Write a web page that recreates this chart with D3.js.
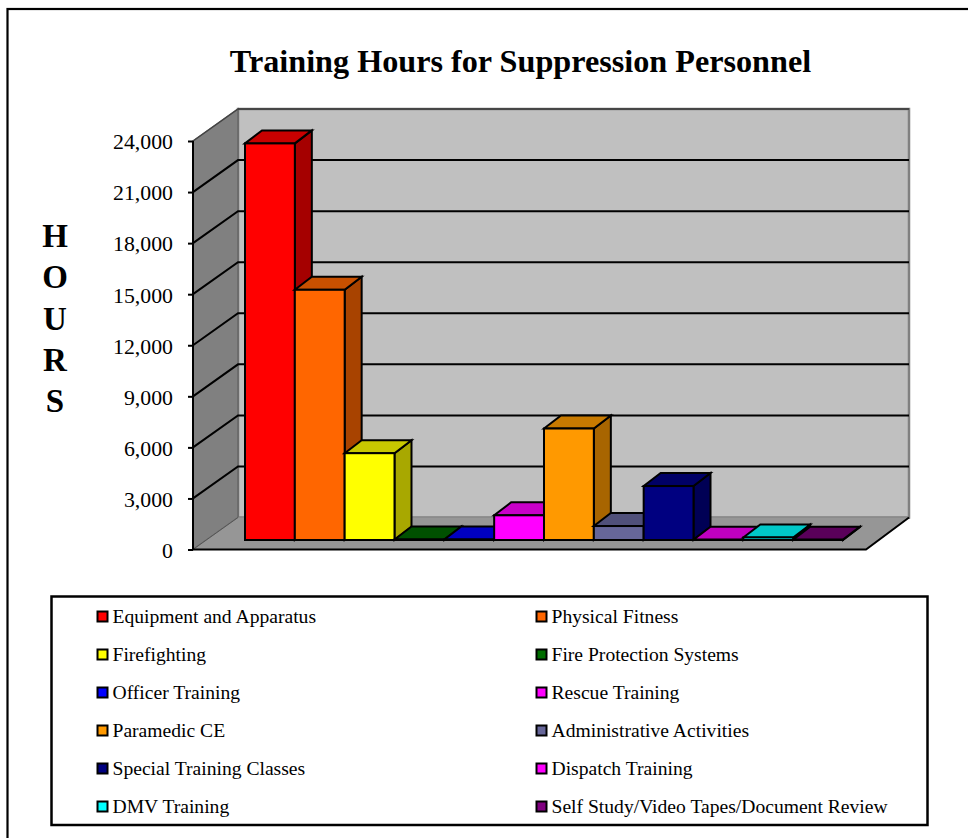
<!DOCTYPE html>
<html><head><meta charset="utf-8">
<script src="https://cdnjs.cloudflare.com/ajax/libs/d3/7.8.5/d3.min.js"></script>
<style>html,body{margin:0;padding:0;background:#fff}svg{display:block}text{font-family:"Liberation Serif",serif;fill:#000}</style>
</head><body><svg id="c" width="968" height="838"></svg>
<script>
const categories=["Equipment and Apparatus","Physical Fitness","Firefighting","Fire Protection Systems","Officer Training","Rescue Training","Paramedic CE","Administrative Activities","Special Training Classes","Dispatch Training","DMV Training","Self Study/Video Tapes/Document Review"];
const hours=[23300,14700,5100,30,30,1450,6550,820,3170,20,150,20];
const frontColors=["#ff0000","#ff6600","#ffff00","#006e00","#0000ff","#ff00ff","#ff9900","#666699","#000080","#ff00ff","#00ffff","#800080"];
const sideColors=["#a50000","#a84300","#a8a800","#004000","#000080","#a000a0","#a86500","#434365","#000055","#800080","#00a8a8","#400040"];
const topColors=["#c80000","#c85000","#c8c800","#005000","#0000c0","#c800c8","#c87a00","#50507a","#000066","#c000c0","#00c8c8","#5a005a"];
const yTicks=[0,3000,6000,9000,12000,15000,18000,21000,24000];
const titleText="Training Hours for Suppression Personnel";
const yLetters=["H","O","U","R","S"];

const svg=d3.select("#c");
const fmt=d3.format(",");
const axisX=193,depthX=45,depthY=-32,wallRight=909,floorFrontRight=866;
const y=d3.scaleLinear().domain([0,24000]).range([549.5,141]);
const x=d3.scaleBand().domain(categories).range([245,843]).paddingInner(0).paddingOuter(0);
const barBase=540,bdx=17,bdy=-13;
const barY=v=>y(v)-(y(0)-barBase);
const poly=p=>p.map(q=>q.join(",")).join(" ");

svg.append("rect").attr("x",7.5).attr("y",9).attr("width",980).attr("height",860).attr("fill","#fff").attr("stroke","#000").attr("stroke-width",2.2);
svg.append("text").attr("x",520.5).attr("y",72).attr("text-anchor","middle").attr("font-size",32.2).attr("font-weight","bold").text(titleText);

// walls
const g=svg.append("g");
g.append("polygon").attr("points",poly([[axisX+depthX,y(24000)+depthY],[wallRight,y(24000)+depthY],[wallRight,y(0)+depthY],[axisX+depthX,y(0)+depthY]])).attr("fill","#c0c0c0").attr("stroke","#808080").attr("stroke-width",2.5);
g.append("polygon").attr("points",poly([[axisX,y(24000)],[axisX+depthX,y(24000)+depthY],[axisX+depthX,y(0)+depthY],[axisX,y(0)]])).attr("fill","#808080").attr("stroke","#666").attr("stroke-width",1.5);
g.append("polygon").attr("points",poly([[axisX,y(0)],[axisX+depthX,y(0)+depthY],[wallRight,y(0)+depthY],[floorFrontRight,y(0)]])).attr("fill","#969696");
g.append("line").attr("x1",axisX+depthX).attr("x2",wallRight).attr("y1",y(24000)+depthY).attr("y2",y(24000)+depthY).attr("stroke","#333").attr("stroke-width",1.5);

// gridlines
yTicks.filter(d=>d>0&&d<24000).forEach(d=>{
  g.append("polyline").attr("fill","none").attr("stroke","#000").attr("stroke-width",2)
   .attr("points",poly([[axisX,y(d)],[axisX+depthX,y(d)+depthY],[wallRight,y(d)+depthY]]));
});
g.append("line").attr("x1",axisX).attr("y1",y(24000)).attr("x2",axisX+depthX).attr("y2",y(24000)+depthY).attr("stroke","#444").attr("stroke-width",1.5);
g.append("line").attr("x1",axisX).attr("y1",y(0)).attr("x2",axisX+depthX).attr("y2",y(0)+depthY).attr("stroke","#555").attr("stroke-width",1);

// floor front edge
g.append("polyline").attr("fill","none").attr("stroke","#000").attr("stroke-width",2)
 .attr("points",poly([[axisX,y(0)],[floorFrontRight,y(0)],[wallRight,y(0)+depthY]]));

// y axis
const axis=d3.axisLeft(y).tickValues(yTicks).tickFormat(fmt).tickSize(5).tickPadding(15);
const ag=svg.append("g").attr("transform",`translate(${axisX},0)`).call(axis);
ag.selectAll("path").attr("stroke","#000").attr("stroke-width",2).attr("d",`M0,${y(0)}V${y(24000)}`);
ag.selectAll("line").attr("stroke","#000").attr("stroke-width",2);
ag.selectAll("text").attr("font-size",21.8).attr("font-family","Liberation Serif").attr("dy","0.36em");

// y title
svg.append("g").selectAll("text").data(yLetters).join("text").attr("x",55).attr("y",(d,i)=>247+i*41.25).attr("text-anchor","middle").attr("font-size",33).attr("font-weight","bold").text(d=>d);

// bars
const bars=svg.append("g").selectAll("g").data(categories).join("g").attr("stroke","#000").attr("stroke-width",2).attr("stroke-linejoin","miter");
bars.each(function(c,i){
  const s=d3.select(this),x0=x(c),x1=x0+x.bandwidth(),t=barY(hours[i]);
  s.append("polygon").attr("points",poly([[x1,barBase],[x1+bdx,barBase+bdy],[x1+bdx,t+bdy],[x1,t]])).attr("fill",sideColors[i]);
  s.append("polygon").attr("points",poly([[x0,t],[x0+bdx,t+bdy],[x1+bdx,t+bdy],[x1,t]])).attr("fill",topColors[i]);
  s.append("rect").attr("x",x0).attr("y",t).attr("width",x.bandwidth()).attr("height",barBase-t).attr("fill",frontColors[i]);
});

// legend
svg.append("rect").attr("x",51.5).attr("y",596.5).attr("width",876).attr("height",228.5).attr("fill","#fff").attr("stroke","#000").attr("stroke-width",2.5);
const lg=svg.append("g").selectAll("g").data(categories).join("g")
 .attr("transform",(d,i)=>`translate(${i%2?536:97},${617+Math.floor(i/2)*38})`);
lg.append("rect").attr("x",0.5).attr("y",-5.5).attr("width",10).attr("height",10).attr("fill",(d,i)=>frontColors[i]).attr("stroke","#000").attr("stroke-width",2);
lg.append("text").attr("x",15.5).attr("y",6).attr("font-size",19.6).text(d=>d);
</script></body></html>
